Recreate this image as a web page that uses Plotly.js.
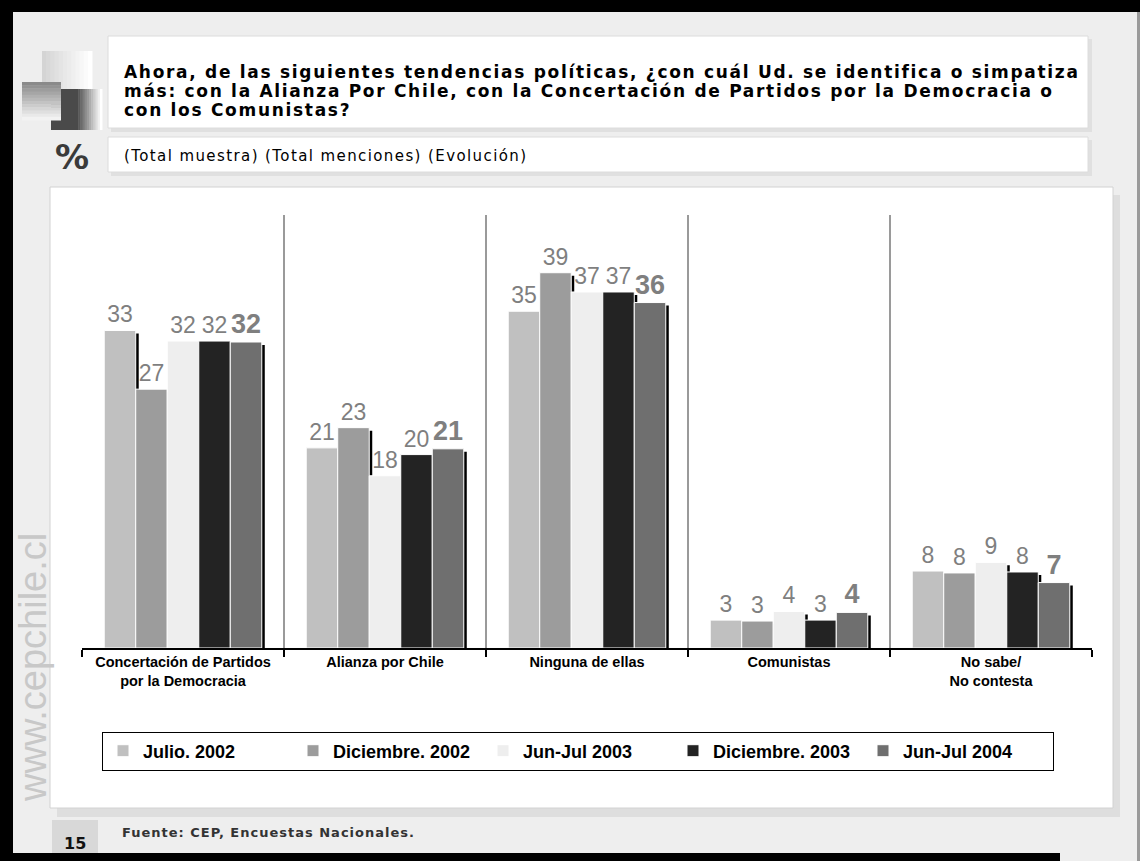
<!DOCTYPE html>
<html>
<head>
<meta charset="utf-8">
<script src="https://cdn.plot.ly/plotly-3.0.1.min.js"></script>
<style>html,body{margin:0;padding:0;background:#eeeeee;}#chart{width:1140px;height:861px;}</style>
</head>
<body>
<div id="chart"></div>
<script>
// ---- data ----
const categories = ["Concertación de Partidos<br>por la Democracia", "Alianza por Chile", "Ninguna de ellas", "Comunistas", "No sabe/<br>No contesta"];
const seriesNames = ["Julio. 2002", "Diciembre. 2002", "Jun-Jul 2003", "Diciembre. 2003", "Jun-Jul 2004"];
const julio2002 = [33.0, 20.8, 35.0, 2.9, 8.0];
const diciembre2002 = [26.9, 22.9, 39.0, 2.8, 7.8];
const junJul2003 = [31.9, 17.9, 37.0, 3.8, 8.9];
const diciembre2003 = [31.9, 20.1, 37.0, 2.9, 7.9];
const junJul2004 = [31.8, 20.7, 35.9, 3.7, 6.8];
const seriesValues = [julio2002, diciembre2002, junJul2003, diciembre2003, junJul2004];
const seriesColors = ["#c0c0c0", "#9c9c9c", "#eeeeee", "#232323", "#6f6f6f"];

// ---- geometry helpers (pixel -> paper) ----
const W = 1140, H = 861, L = 82, R = 48, T = 215, B = 213;
const PW = W - L - R, PH = H - T - B;
const px = x => (x - L) / PW;
const py = y => (H - B - y) / PH;
const Y_MAX = 45;

const shapes = [];
function rect(x0, y0, x1, y1, fill, lineColor, lw) {
  shapes.push({type: 'rect', xref: 'paper', yref: 'paper', layer: 'below',
    x0: px(x0), x1: px(x1), y0: py(y1), y1: py(y0),
    fillcolor: fill, line: {color: lineColor || fill, width: lineColor ? (lw || 1) : 0}});
}
function mix(c1, c2, t) {
  const a = [1,3,5].map(i => parseInt(c1.substr(i,2),16));
  const b = [1,3,5].map(i => parseInt(c2.substr(i,2),16));
  return 'rgb(' + a.map((v,i) => Math.round(v + (b[i]-v)*t)).join(',') + ')';
}
function hGrad(x0, y0, x1, y1, c1, c2, n) {
  const w = (x1 - x0) / n;
  for (let i = 0; i < n; i++) rect(x0 + i*w, y0, x0 + (i+1)*w + 0.5, y1, mix(c1, c2, i/(n-1)));
}
function vGrad(x0, y0, x1, y1, c1, c2, n) {
  const h = (y1 - y0) / n;
  for (let i = 0; i < n; i++) rect(x0, y0 + i*h, x1, y0 + (i+1)*h + 0.5, mix(c1, c2, i/(n-1)));
}

// frame
rect(0, 0, 1140, 12, '#000000');
rect(0, 0, 13, 861, '#000000');
rect(0, 853, 1060, 861, '#000000');
rect(1137, 12, 1140, 861, '#9a9a9a');
// title box + shadow
rect(111, 39, 1092, 132, '#e0e0e0');
rect(108, 36, 1088, 128, '#ffffff', '#dcdcdc', 1);
// subtitle box + shadow
rect(111, 140, 1092, 176, '#e0e0e0');
rect(108, 137, 1088, 172, '#ffffff', '#dcdcdc', 1);
// chart panel + shadow
rect(57, 195, 1120, 817, '#dedede');
rect(50, 187, 1113, 808, '#ffffff', '#d2d2d2', 1);
// page number box
rect(52, 820, 98, 853, '#d8d8d8');
// logo
hGrad(42, 51, 92, 100, '#d4d4d4', '#ffffff', 12);
rect(51, 89, 76, 130, '#4a4a4a');
hGrad(76, 89, 102, 130, '#4a4a4a', '#ffffff', 12);
vGrad(22, 82, 61, 120, '#8a8a8a', '#f2f2f2', 12);

// ---- traces: bars placed within each category (group of 5) ----
const GROUP = 0.78, BW = GROUP / seriesNames.length;
const SH_DX = 3 / (PW / categories.length);   // 3 px right, in category units
const SH_DY = 3 / PH * Y_MAX;                  // 3 px down, in value units

const shadowTraces = seriesNames.map((name, i) => ({
  type: 'bar', name: name + ' (sombra)', showlegend: false, hoverinfo: 'skip',
  x: categories, y: seriesValues[i], base: -SH_DY,
  width: BW, offset: -GROUP / 2 + i * BW + SH_DX,
  marker: {color: '#000000', line: {width: 0}}
}));
const mainTraces = seriesNames.map((name, i) => ({
  type: 'bar', name: name,
  x: categories, y: seriesValues[i],
  width: BW, offset: -GROUP / 2 + i * BW,
  marker: {color: seriesColors[i], line: {color: '#ffffff', width: 1}},
  texttemplate: '%{y:.0f}',
  textposition: 'outside',
  textfont: {family: 'Liberation Sans, Arial, sans-serif', size: i === 4 ? 27 : 23, color: '#7f7f7f', weight: i === 4 ? 'bold' : 'normal'},
  constraintext: 'none',
  cliponaxis: false,
  hoverinfo: 'x+y+name'
}));

// ---- annotations ----
const titleFont = {family: 'DejaVu Sans, Verdana, sans-serif', size: 17, color: '#000000', weight: 'bold'};
const ann = [];
function text(x, y, t, font, opts) {
  ann.push(Object.assign({xref: 'paper', yref: 'paper', x: px(x), y: py(y), text: t, showarrow: false,
    xanchor: 'left', yanchor: 'middle', font: font}, opts || {}));
}
const sp = (t, s) => '<span style="letter-spacing:' + s + 'px">' + t + '</span>';
text(122, 72, sp('Ahora, de las siguientes tendencias políticas, ¿con cuál Ud. se identifica o simpatiza', 1.7), titleFont);
text(122, 91, sp('más: con la Alianza Por Chile, con la Concertación de Partidos por la Democracia o', 1.7), titleFont);
text(122, 110, sp('con los Comunistas?', 1.7), titleFont);
text(122, 156, sp('(Total muestra) (Total menciones) (Evolución)', 1.4), {family: 'DejaVu Sans, Verdana, sans-serif', size: 15, color: '#000000'});
text(72, 157, '%', {family: 'DejaVu Sans, Verdana, sans-serif', size: 34, color: '#3a3a3a', weight: 'bold'}, {xanchor: 'center'});
text(75, 843, '15', {family: 'DejaVu Sans, Verdana, sans-serif', size: 16, color: '#111111', weight: 'bold'}, {xanchor: 'center'});
text(120, 832, sp('Fuente: CEP, Encuestas Nacionales.', 1), {family: 'DejaVu Sans, Verdana, sans-serif', size: 13, color: '#333333', weight: 'bold'});
text(33, 668, 'www.cepchile.cl', {family: 'Liberation Sans, Arial, sans-serif', size: 38, color: '#c8c8c8'}, {xanchor: 'center', textangle: -90});

const layout = {
  width: W, height: H,
  margin: {l: L, r: R, t: T, b: B, pad: 0},
  paper_bgcolor: '#eeeeee',
  plot_bgcolor: 'rgba(0,0,0,0)',
  barmode: 'overlay',
  showlegend: true,
  legend: {
    orientation: 'h', xref: 'paper', yref: 'paper',
    x: px(578), y: py(751), xanchor: 'center', yanchor: 'middle',
    bgcolor: '#ffffff', bordercolor: '#000000', borderwidth: 1,
    font: {family: 'Liberation Sans, Arial, sans-serif', size: 18, color: '#000000', weight: 'bold'},
    entrywidth: 145, entrywidthmode: 'pixels', traceorder: 'normal',
    itemwidth: 30
  },
  xaxis: {
    type: 'category',
    range: [-0.5, categories.length - 0.5],
    tickson: 'boundaries',
    ticks: 'outside', ticklen: 7, tickwidth: 2, tickcolor: '#000000',
    showline: true, linecolor: '#000000', linewidth: 2,
    showgrid: true, gridcolor: '#9a9a9a', gridwidth: 1.5,
    tickfont: {family: 'Liberation Sans, Arial, sans-serif', size: 14.5, color: '#000000', weight: 'bold'},
    fixedrange: true
  },
  yaxis: {range: [0, Y_MAX], visible: false, showgrid: false, zeroline: false, fixedrange: true},
  shapes: shapes,
  annotations: ann,
  font: {family: 'Liberation Sans, Arial, sans-serif'}
};

Plotly.newPlot('chart', shadowTraces.concat(mainTraces), layout, {displayModeBar: false, staticPlot: true});
</script>
</body>
</html>
